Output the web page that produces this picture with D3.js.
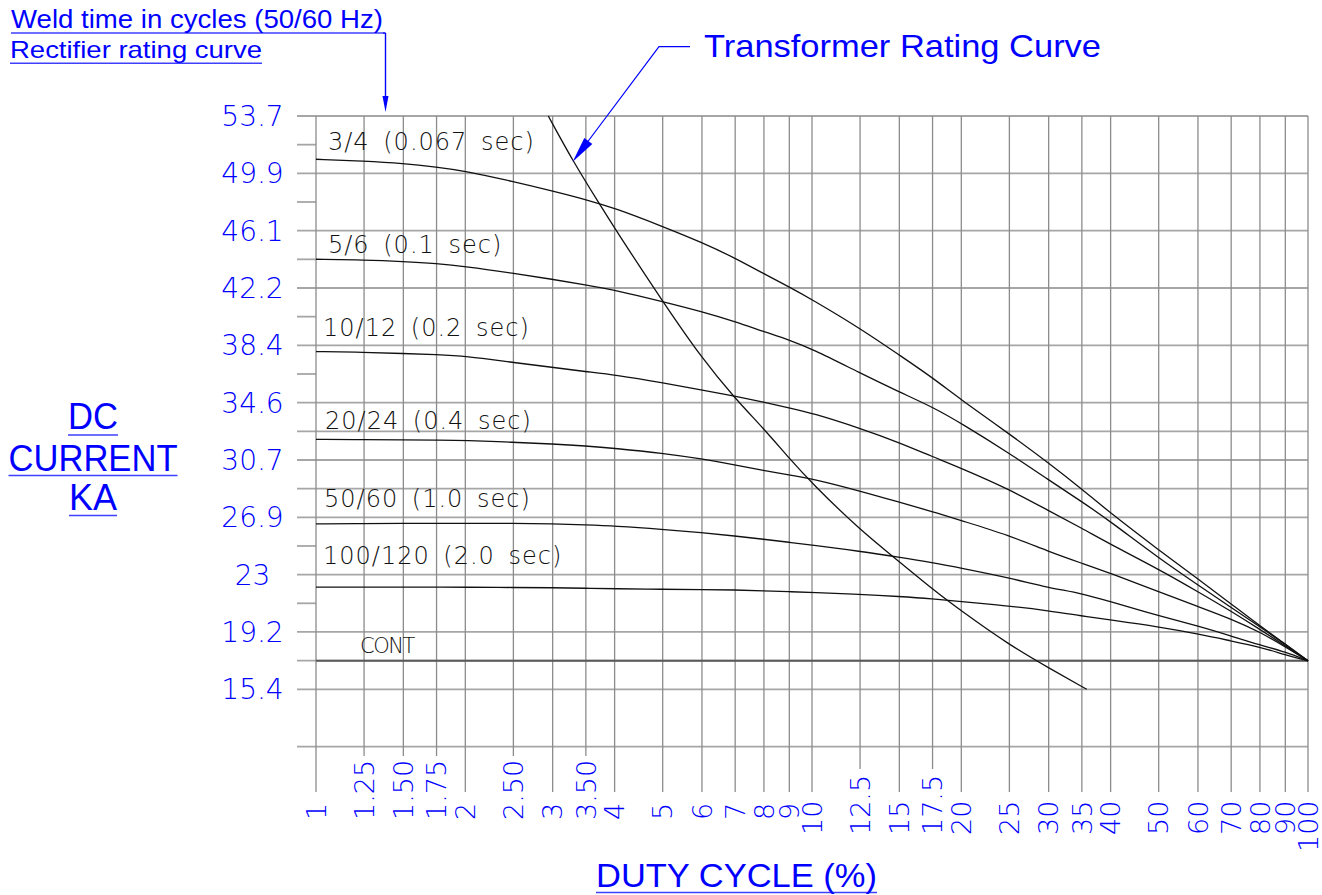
<!DOCTYPE html>
<html>
<head>
<meta charset="utf-8">
<script src="https://cdn.jsdelivr.net/npm/d3@7"></script>
<style>
body { margin: 0; background: #fff; }
svg { display: block; }
</style>
</head>
<body>
<svg id="chart" width="1322" height="895"></svg>
<script>

// duty cycle ticks (%), log axis
var dutyTicks = [1, 1.25, 1.5, 1.75, 2, 2.5, 3, 3.5, 4, 5, 6, 7, 8, 9, 10, 12.5, 15, 17.5, 20, 25, 30, 35, 40, 50, 60, 70, 80, 90, 100];
var dutyLabels = ["1", "1.25", "1.50", "1.75", "2", "2.50", "3", "3.50", "4", "5", "6", "7", "8", "9", "10", "12.5", "15", "17.5", "20", "25", "30", "35", "40", "50", "60", "70", "80", "90", "100"];

// DC current ticks (kA)
var currentLabels = ["53.7", "49.9", "46.1", "42.2", "38.4", "34.6", "30.7", "26.9", "23", "19.2", "15.4"];

// rectifier rating curves, read at every duty tick
var curveNames = ["3/4 (0.067 sec)", "5/6 (0.1 sec)", "10/12 (0.2 sec)", "20/24 (0.4 sec)", "50/60 (1.0 sec)", "100/120 (2.0 sec)"];
var curve34 = [50.81, 50.69, 50.53, 50.29, 50.03, 49.32, 48.69, 48.12, 47.55, 46.32, 45.25, 44.21, 43.15, 42.28, 41.44, 39.52, 37.73, 36.22, 34.73, 32.46, 30.52, 28.78, 27.16, 24.71, 22.77, 21.1, 19.63, 18.43, 17.3];
var curve56 = [44.13, 44.08, 43.98, 43.85, 43.65, 43.19, 42.79, 42.41, 42.08, 41.3, 40.63, 39.96, 39.29, 38.74, 38.14, 36.53, 35.26, 34.26, 33.17, 31.17, 29.38, 27.94, 26.6, 24.17, 22.37, 20.87, 19.57, 18.4, 17.3];
var curve1012 = [37.96, 37.92, 37.83, 37.76, 37.67, 37.23, 36.91, 36.62, 36.4, 35.88, 35.4, 34.98, 34.58, 34.2, 33.86, 32.84, 31.88, 30.94, 30.17, 28.76, 27.33, 26.16, 25.08, 23.42, 21.92, 20.61, 19.4, 18.3, 17.3];
var curve2024 = [32.1, 32.08, 32.06, 32.04, 32.03, 31.9, 31.79, 31.66, 31.5, 31.17, 30.79, 30.39, 30.01, 29.72, 29.48, 28.65, 27.9, 27.27, 26.67, 25.68, 24.6, 23.82, 23.15, 21.92, 20.93, 20.1, 19.23, 18.23, 17.3];
var curve5060 = [26.45, 26.47, 26.48, 26.49, 26.49, 26.49, 26.45, 26.38, 26.31, 26.09, 25.86, 25.64, 25.42, 25.22, 25.04, 24.62, 24.22, 23.86, 23.49, 22.84, 22.19, 21.8, 21.25, 20.32, 19.63, 18.96, 18.36, 17.9, 17.3];
var curve100120 = [22.22, 22.22, 22.22, 22.22, 22.22, 22.2, 22.19, 22.15, 22.12, 22.08, 22.06, 22.04, 21.98, 21.92, 21.87, 21.75, 21.6, 21.44, 21.25, 20.97, 20.65, 20.3, 20.03, 19.57, 19.1, 18.63, 18.23, 17.7, 17.3];

// continuous rating
var contDuty = [1, 100];
var contCurrent = [17.3, 17.3];

// transformer rating curve
var transDuty = [2.94, 3.3, 3.74, 4, 5, 6, 7, 8, 9, 10, 12.5, 15, 17.5, 20, 25, 30, 35.8];
var transCurrent = [53.7, 50.65, 47.75, 46.2, 41.3, 37.5, 34.82, 32.8, 30.83, 29.16, 26.04, 23.93, 22.08, 20.63, 18.36, 16.83, 15.4];

var allCurves = [curve34, curve56, curve1012, curve2024, curve5060, curve100120];

var svg = d3.select("#chart");
var blue = "#0000ff";
var tickFont = "'DejaVu Sans', sans-serif";
var titleFont = "'Liberation Sans', Arial, sans-serif";

var x = d3.scaleLog().domain([1, 100]).range([316, 1308]);
var y = d3.scaleLinear().domain([15.4, 53.7]).range([689.3, 116]);
var step = (53.7 - 15.4) / 10;
var left = 297;

// horizontal grid
var grid = svg.append("g");
d3.range(12).forEach(function(i) {
  var v = 53.7 - i * step;
  grid.append("line")
    .attr("x1", left).attr("x2", x(100))
    .attr("y1", y(v)).attr("y2", y(v))
    .attr("stroke", "#a6a6a6").attr("stroke-width", 1.8);
});
// half steps: some run across, the rest are short ticks
var fullHalves = [5, 6, 9];
d3.range(10).forEach(function(i) {
  var v = 53.7 - (i + 0.5) * step;
  grid.append("line")
    .attr("x1", left).attr("x2", fullHalves.indexOf(i) >= 0 ? x(100) : x(1))
    .attr("y1", y(v)).attr("y2", y(v))
    .attr("stroke", "#a6a6a6").attr("stroke-width", 1.8);
});

// vertical grid, running down into ticks
var shortTicks = [1.25, 1.5, 1.75, 2.5, 3.5];
var midTicks = [12.5, 17.5];
dutyTicks.forEach(function(d) {
  var end = shortTicks.indexOf(d) >= 0 ? 756 : (midTicks.indexOf(d) >= 0 ? 769 : 792);
  grid.append("line")
    .attr("x1", x(d)).attr("x2", x(d))
    .attr("y1", y(53.7)).attr("y2", end)
    .attr("stroke", "#8c8c8c").attr("stroke-width", 1.3);
});

// x tick labels, rotated
dutyTicks.forEach(function(d, i) {
  var base = d < 10 ? 820 : (d < 100 ? 835 : 852);
  svg.append("text")
    .attr("transform", "translate(" + x(d) + "," + base + ") rotate(-90)")
    .attr("dy", "0.36em")
    .attr("font-family", tickFont).attr("font-weight", 200)
    .attr("font-size", 27).attr("fill", blue)
    .text(dutyLabels[i]);
});

// y tick labels
currentLabels.forEach(function(t, i) {
  svg.append("text")
    .attr("x", 252.5).attr("y", y(53.7 - i * step))
    .attr("dy", "0.36em")
    .attr("text-anchor", "middle")
    .attr("font-family", tickFont).attr("font-weight", 200)
    .attr("font-size", 28).attr("fill", blue)
    .text(t);
});

// CONT line
var line = d3.line().x(function(d) { return x(d[0]); }).y(function(d) { return y(d[1]); });
svg.append("path")
  .attr("d", line(d3.zip(contDuty, contCurrent)))
  .attr("fill", "none").attr("stroke", "#5a5a5a").attr("stroke-width", 2);

// rating curves
var smooth = d3.line().x(function(d) { return x(d[0]); }).y(function(d) { return y(d[1]); }).curve(d3.curveBasis);
allCurves.forEach(function(c) {
  svg.append("path")
    .attr("d", smooth(d3.zip(dutyTicks, c)))
    .attr("fill", "none").attr("stroke", "#111").attr("stroke-width", 1.3);
});
svg.append("path")
  .attr("d", smooth(d3.zip(transDuty, transCurrent)))
  .attr("fill", "none").attr("stroke", "#111").attr("stroke-width", 1.3);

// curve labels (offset from curve start)
var labelOffsets = [[12, -9], [12, -6], [7, -16], [9, -10], [8, -17], [7, -23]];
curveNames.forEach(function(n, i) {
  svg.append("text")
    .attr("x", x(1) + labelOffsets[i][0])
    .attr("y", y(allCurves[i][0]) + labelOffsets[i][1])
    .attr("font-family", tickFont).attr("font-weight", 200)
    .attr("font-size", 24).attr("fill", "#111")
    .attr("letter-spacing", 1).attr("word-spacing", 5)
    .text(n);
});
svg.append("text")
  .attr("x", x(1) + 44).attr("y", y(contCurrent[0]) - 8)
  .attr("font-family", tickFont).attr("font-weight", 200)
  .attr("font-size", 21).attr("fill", "#111")
  .attr("letter-spacing", -1.5)
  .text("CONT");

// underlined blue titles
function title(txt, tx, ty, size, len, anchor, uy) {
  var t = svg.append("text")
    .attr("x", tx).attr("y", ty)
    .attr("font-family", titleFont).attr("font-size", size)
    .attr("fill", blue).attr("text-anchor", anchor || "start")
    .attr("textLength", len).attr("lengthAdjust", "spacingAndGlyphs")
    .text(txt);
  var x0 = anchor === "middle" ? tx - len / 2 : tx;
  svg.append("line")
    .attr("x1", x0).attr("x2", x0 + len)
    .attr("y1", uy).attr("y2", uy)
    .attr("stroke", blue).attr("stroke-width", 1.6).attr("opacity", 0.75);
  return t;
}

function arrowHead(tx, ty, fx, fy, len, hw) {
  var dx = tx - fx, dy = ty - fy, l = Math.sqrt(dx * dx + dy * dy);
  var ux = dx / l, uy = dy / l;
  var bx = tx - ux * len, by = ty - uy * len;
  svg.append("path")
    .attr("d", "M" + tx + "," + ty + "L" + (bx - uy * hw) + "," + (by + ux * hw) + "L" + (bx + uy * hw) + "," + (by - ux * hw) + "Z")
    .attr("fill", blue);
}

title("Weld time in cycles (50/60 Hz)", 11, 27.5, 25, 372, "start", 33);
title("Rectifier rating curve", 10, 58, 24, 252, "start", 63.3);
// leader from first title to top of the chart
svg.append("line").attr("x1", 383).attr("x2", 385.5).attr("y1", 33).attr("y2", 33)
  .attr("stroke", blue).attr("stroke-width", 1.6);
svg.append("line").attr("x1", 385.5).attr("x2", 385.5).attr("y1", 33).attr("y2", 100)
  .attr("stroke", blue).attr("stroke-width", 1.4);
arrowHead(385.5, 112, 385.5, 33, 16, 3);

title("DC", 93, 428.5, 37, 50, "middle", 435);
title("CURRENT", 93, 470.5, 37, 169, "middle", 475.5);
title("KA", 93, 510, 37, 48, "middle", 515.5);

title("DUTY CYCLE (%)", 596, 887, 33, 281, "start", 892.5);

// transformer callout
svg.append("text")
  .attr("x", 704).attr("y", 56.5)
  .attr("font-family", titleFont).attr("font-size", 32)
  .attr("fill", blue)
  .attr("textLength", 397).attr("lengthAdjust", "spacingAndGlyphs")
  .text("Transformer Rating Curve");
svg.append("path")
  .attr("d", "M690,46.7L659,46.7L580,152")
  .attr("fill", "none").attr("stroke", blue).attr("stroke-width", 1.2);
arrowHead(572.7, 161.7, 659, 46.7, 26, 5);

</script>
</body>
</html>
